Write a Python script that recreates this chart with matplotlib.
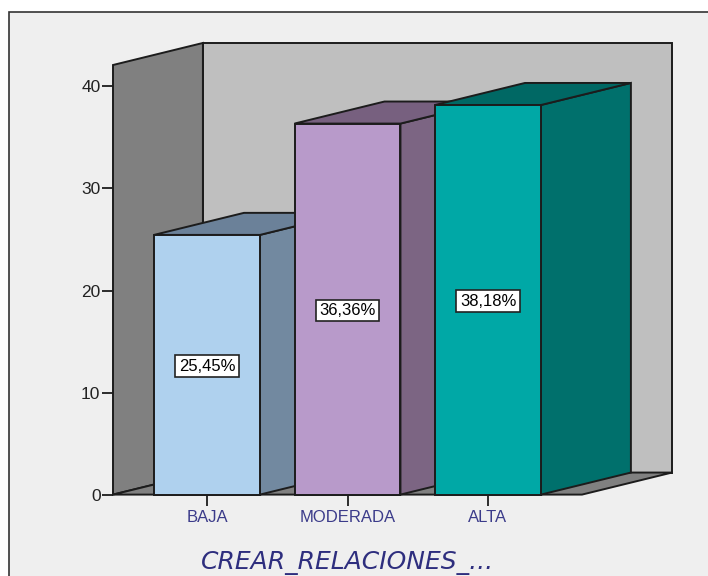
import matplotlib
matplotlib.use("Agg")
import matplotlib.pyplot as plt
from matplotlib.patches import Polygon, Rectangle

categories = ["BAJA", "MODERADA", "ALTA"]
percentages = [25.45, 36.36, 38.18]
y_ticks = [0, 10, 20, 30, 40]
axis_title = "CREAR_RELACIONES_..."

front_colors = ["#afd1ee", "#b89aca", "#00a8a6"]
side_colors = ["#7289a0", "#7c6583", "#00706c"]
top_colors = ["#6b8199", "#77607f", "#006864"]

W, H = 708, 576
EDGE = "#1c1c1c"
LW = 1.4

fig = plt.figure(figsize=(W / 100, H / 100), dpi=100, facecolor="white")
plt.rcParams["font.family"] = ["Liberation Sans", "DejaVu Sans"]

# Light panel behind the chart; its right and bottom edges run off the figure
fig.add_artist(Rectangle((9 / W, -0.05), 1.1, 1.05 - 12.5 / H, transform=fig.transFigure,
                         facecolor="#efefef", edgecolor="#333333", linewidth=1.2, zorder=-1))

# Front plane of the 3D box, in pixels: x 113-582, y 65-494.6
ax = fig.add_axes([113 / W, 1 - 494.6 / H, 469 / W, 429.6 / H])
ax.patch.set_visible(False)
ax.set_xlim(-0.669, 2.669)
ax.set_ylim(0, 42.1)
for s in ax.spines.values():
    s.set_visible(False)

DX, DY = 0.64, 2.16  # depth offset of the box in data units
BAR = 0.377          # half bar width
x0, x1 = ax.get_xlim()
y1 = ax.get_ylim()[1]


def face(points, color, z):
    ax.add_patch(Polygon(points, closed=True, facecolor=color, edgecolor=EDGE,
                         linewidth=LW, joinstyle="miter", clip_on=False, zorder=z))


# Walls and floor
face([(x0 + DX, DY), (x1 + DX, DY), (x1 + DX, y1 + DY), (x0 + DX, y1 + DY)], "#bfbfbf", 1)
face([(x0, 0), (x0 + DX, DY), (x0 + DX, y1 + DY), (x0, y1)], "#808080", 1.1)
face([(x0, 0), (x1, 0), (x1 + DX, DY), (x0 + DX, DY)], "#808080", 1.2)

# Bars, drawn left to right so nearer faces overlap correctly
for i, (v, fc, sc, tc) in enumerate(zip(percentages, front_colors, side_colors, top_colors)):
    z = 2 + i
    l, r = i - BAR, i + BAR
    face([(r, 0), (r + DX, DY), (r + DX, v + DY), (r, v)], sc, z)
    face([(l, v), (r, v), (r + DX, v + DY), (l + DX, v + DY)], tc, z)
    face([(l, 0), (r, 0), (r, v), (l, v)], fc, z + 0.1)
    ax.text(i, v / 2, f"{v:.2f}".replace(".", ",") + "%", ha="center", va="center_baseline",
            fontsize=12, color="black", zorder=z + 0.2,
            bbox=dict(boxstyle="square,pad=0.2", facecolor="white",
                      edgecolor="#222222", linewidth=1.2))

ax.set_yticks(y_ticks)
ax.set_xticks(range(len(categories)))
ax.set_xticklabels(categories, color="#3b3b8a", fontsize=12)
ax.tick_params(axis="x", length=8, width=1.3, color=EDGE, pad=3)
ax.tick_params(axis="y", length=8, width=1.3, color=EDGE, pad=1, labelsize=12.5, labelcolor="#222222")
ax.set_xlabel(axis_title, fontsize=18, style="italic", color="#2e2e7e",
              family=["DejaVu Sans"], labelpad=19)

fig.savefig("out.png", dpi=100)
